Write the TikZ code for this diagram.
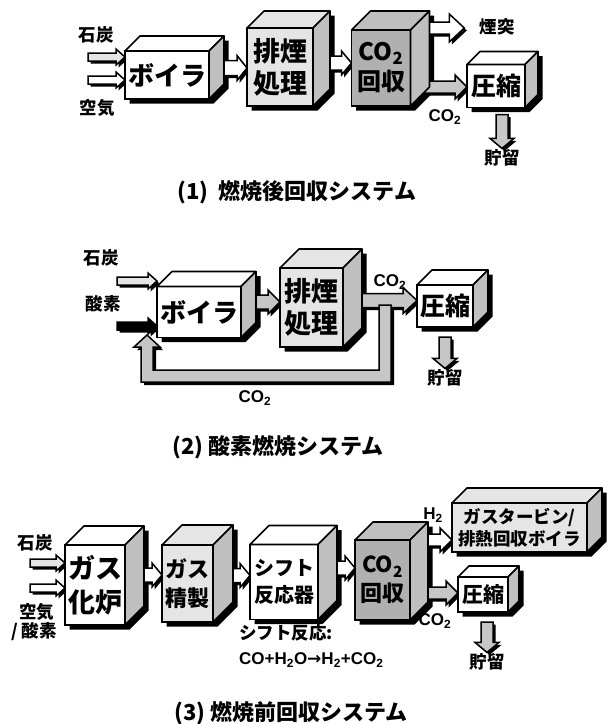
\documentclass[tikz,border=0pt]{standalone}
\usepackage{fontspec}
\setmainfont{Liberation Sans}
\newfontfamily\jp{Noto Sans CJK JP}
\newfontfamily\djv{DejaVu Sans}
\usetikzlibrary{calc}
\pgfdeclarelayer{shad}\pgfdeclarelayer{arr}
\pgfsetlayers{shad,arr,main}
\colorlet{lightf}{gray!20}
\colorlet{darkf}{gray!62}
\colorlet{darktop}{gray!50}
\colorlet{sidef}{gray!50}
\colorlet{arrg}{gray!45}
\newcommand\fs[2]{\fontsize{#1}{#2}\selectfont}
\tikzset{
  cubefront/.style={draw, line width=1.6pt, outer sep=0pt, inner sep=0pt, align=center, text=black},
  face/.style={draw, line width=1.6pt, line join=round},
  arrline/.style={draw, line width=1.5pt, line join=miter},
  lbl/.style={font=\jp\bfseries\fs{17.5}{20}, inner sep=1pt},
  chem/.style={font=\bfseries\fs{17}{19}, inner sep=1pt},
  capt/.style={font=\jp\bfseries\fs{22}{24}},
}
% #1 name, #2 center, #3 w, #4 h, #5 depth, #6 front fill, #7 top fill, #8 font, #9 text
\newcommand\cube[9]{%
  \node[cubefront, minimum width=#3, minimum height=#4, fill=#6, font=\jp\bfseries#8] (#1) at #2 {#9};
  \draw[face, fill=#7] (#1.north west) -- ++(#5,-#5) -- ($(#1.north east)+(#5,-#5)$) -- (#1.north east) -- cycle;
  \draw[face, fill=sidef] (#1.north east) -- ++(#5,-#5) -- ($(#1.south east)+(#5,-#5)$) -- (#1.south east) -- cycle;
  \begin{pgfonlayer}{shad}
    \fill[black] ($(#1.south west)+(4.5,4.5)$) -- ($(#1.north west)+(4.5,4.5)$) -- ($(#1.north west)+(4.5+#5,4.5-#5)$)
      -- ($(#1.north east)+(4.5+#5,4.5-#5)$) -- ($(#1.south east)+(4.5+#5,4.5-#5)$) -- ($(#1.south east)+(4.5,4.5)$) -- cycle;
  \end{pgfonlayer}}
% horizontal block arrow: #1 fill, #2 start, #3 end (x only), #4 shaft half, #5 head half, #6 head length
\newcommand\harr[6]{%
  \begin{pgfonlayer}{arr}
  \fill[black] let \p1=#2, \p2=#3 in
    (\x1+2.5pt,\y1+#4-2.5pt) -- (\x2-#6+2.5pt,\y1+#4-2.5pt) -- (\x2-#6+2.5pt,\y1+#5-2.5pt) -- (\x2+2.5pt,\y1-2.5pt)
    -- (\x2-#6+2.5pt,\y1-#5-2.5pt) -- (\x2-#6+2.5pt,\y1-#4-2.5pt) -- (\x1+2.5pt,\y1-#4-2.5pt) -- cycle;
  \filldraw[arrline, fill=#1] let \p1=#2, \p2=#3 in
    (\x1,\y1+#4) -- (\x2-#6,\y1+#4) -- (\x2-#6,\y1+#5) -- (\x2,\y1)
    -- (\x2-#6,\y1-#5) -- (\x2-#6,\y1-#4) -- (\x1,\y1-#4) -- cycle;
  \end{pgfonlayer}}
% vertical (down) block arrow: #1 fill, #2 start, #3 end (y only)
\newcommand\varr[6]{%
  \begin{pgfonlayer}{arr}
  \fill[black] let \p1=#2, \p2=#3 in
    (\x1-#4+2.5pt,\y1-2.5pt) -- (\x1-#4+2.5pt,\y2+#6-2.5pt) -- (\x1-#5+2.5pt,\y2+#6-2.5pt) -- (\x1+2.5pt,\y2-2.5pt)
    -- (\x1+#5+2.5pt,\y2+#6-2.5pt) -- (\x1+#4+2.5pt,\y2+#6-2.5pt) -- (\x1+#4+2.5pt,\y1-2.5pt) -- cycle;
  \filldraw[arrline, fill=#1] let \p1=#2, \p2=#3 in
    (\x1-#4,\y1) -- (\x1-#4,\y2+#6) -- (\x1-#5,\y2+#6) -- (\x1,\y2)
    -- (\x1+#5,\y2+#6) -- (\x1+#4,\y2+#6) -- (\x1+#4,\y1) -- cycle;
  \end{pgfonlayer}}
\begin{document}
\begin{tikzpicture}[x=1pt,y=-1pt]
\useasboundingbox (0,0) rectangle (611,724);

%% ---------------- (1) ----------------
\cube{boil1}{(167,75)}{84}{48}{15}{white}{white}{\fs{26}{28}}{ボイラ}
\cube{exh1}{(280,67)}{66}{78}{17}{lightf}{lightf}{\fs{27}{32}}{排煙\\処理}
\cube{cap1}{(381,68)}{59}{76}{19}{darkf}{darktop}{\fs{24}{30}}{CO\textsubscript{2}\\回収}
\cube{comp1}{(496,86)}{58}{43}{13}{white}{white}{\fs{25}{26}}{圧縮}

\node[lbl] (coal1) at (96,35) {石炭};
\node[lbl] (air1) at (97,108) {空気};
\node[lbl] (stack1) at (497,27) {煙突};
\node[chem] (co2a) at (445,117) {CO\textsubscript{2}};
\node[lbl] (store1) at (502,158) {貯留};
\coordinate (c1s) at (88,57);
\coordinate (a1s) at (88,80);

\harr{lightf}{(c1s)}{(boil1.west)}{4pt}{8pt}{9pt}
\harr{white}{(a1s)}{(boil1.west)}{4pt}{8pt}{9pt}
\harr{white}{($(boil1.east)+(0,-7)$)}{(exh1.west)}{7.5pt}{12.5pt}{10pt}
\harr{white}{($(exh1.east)+(0,-4)$)}{(cap1.west)}{7pt}{12pt}{10pt}
\harr{white}{($(cap1.north east)+(14,-2)$)}{($(stack1.west)+(-14,0)$)}{6pt}{14pt}{15pt}
\harr{arrg}{($(cap1.east)+(0,19)$)}{(comp1.west)}{6pt}{12pt}{12pt}
\varr{arrg}{($(comp1.south)+(6,7)$)}{(store1.north)}{6pt}{12pt}{10pt}

\node[capt] (cap1t) at (297,192) {(1)\ \ 燃焼後回収システム};

%% ---------------- (2) ----------------
\cube{boil2}{(199,312)}{84}{51}{15}{white}{white}{\fs{26}{28}}{ボイラ}
\cube{exh2}{(311.5,307.5)}{63}{79}{19}{lightf}{lightf}{\fs{27}{32}}{排煙\\処理}
\cube{comp2}{(445,306)}{56}{42}{15}{white}{white}{\fs{25}{26}}{圧縮}

\node[lbl] (coal2) at (101,258) {石炭};
\node[lbl] (oxy2) at (103,304) {酸素};
\node[chem] (co2b) at (390,282) {CO\textsubscript{2}};
\node[chem] (co2c) at (255,398) {CO\textsubscript{2}};
\node[lbl] (store2) at (445,378) {貯留};
\coordinate (c2s) at (117,281);
\coordinate (o2s) at (117,326);

\harr{lightf}{(c2s)}{(boil2.west)}{4pt}{8pt}{9pt}
\harr{black}{(o2s)}{(boil2.west)}{4pt}{8pt}{9pt}
\harr{arrg}{($(boil2.east)+(0,-10)$)}{(exh2.west)}{7pt}{12pt}{12pt}
\harr{arrg}{($(exh2.east)+(0,-7)$)}{(comp2.west)}{7pt}{13pt}{14pt}
\varr{arrg}{($(comp2.south)+(0,10)$)}{(store2.north)}{6pt}{12pt}{10pt}

% recycle loop of CO2
\begin{pgfonlayer}{arr}
\fill[black] (382,308) -- (394,308) -- (394,385) -- (144,385) -- (144,350) -- (137,350) -- (150,338)
  -- (163,350) -- (156,350) -- (156,373) -- (382,373) -- cycle;
\filldraw[arrline, fill=arrg] (379,305) -- (391,305) -- (391,382) -- (141,382) -- (141,347) -- (134,347)
  -- (147,335) -- (160,347) -- (153,347) -- (153,370) -- (379,370) -- cycle;
\end{pgfonlayer}

\node[capt] (cap2t) at (278,447) {(2) 酸素燃焼システム};

%% ---------------- (3) ----------------
\cube{gas3}{(95,585)}{60}{80}{19}{white}{white}{\fs{27}{34}}{ガス\\化炉}
\cube{pur3}{(187.5,583.5)}{51}{77}{20}{lightf}{lightf}{\fs{22}{29}}{ガス\\精製}
\cube{shift3}{(284,582)}{68}{75}{19}{white}{white}{\fs{20}{27}}{シフト\\反応器}
\cube{cap3}{(382.5,580)}{55}{80}{18}{darkf}{darktop}{\fs{22}{29}}{CO\textsubscript{2}\\回収}
\cube{gt3}{(519.5,527.5)}{135}{49}{15}{lightf}{lightf}{\fs{17.5}{22}}{ガスタービン/\\排熱回収ボイラ}
\cube{comp3}{(483,594.5)}{50}{35}{11}{white}{white}{\fs{21}{22}}{圧縮}

\node[lbl] (coal3) at (35,543) {石炭};
\node[lbl] (air3) at (37,612) {空気};
\node[lbl] (oxy3) at (34,632) {/ 酸素};
\node[chem] (h2) at (433,515) {H\textsubscript{2}};
\node[chem] (co2d) at (435,621) {CO\textsubscript{2}};
\node[lbl] (store3) at (487,662) {貯留};
\node[lbl, anchor=west] (shiftt) at (238,633) {シフト反応:};
\node[chem, anchor=west] (eq) at (238,660) {CO+H\textsubscript{2}O{\djv\bfseries →}H\textsubscript{2}+CO\textsubscript{2}};
\coordinate (c3s) at (30,563);
\coordinate (a3s) at (30,588);

\harr{lightf}{(c3s)}{(gas3.west)}{4pt}{8pt}{9pt}
\harr{white}{(a3s)}{(gas3.west)}{4pt}{8pt}{9pt}
\harr{white}{($(gas3.east)+(0,-10)$)}{(pur3.west)}{7pt}{12pt}{10pt}
\harr{white}{($(pur3.east)+(0,-8)$)}{(shift3.west)}{7pt}{12pt}{10pt}
\harr{white}{($(shift3.east)+(0,-14)$)}{(cap3.west)}{7pt}{12pt}{10pt}
\harr{white}{($(cap3.east)+(0,-40)$)}{(gt3.west)}{6pt}{12pt}{12pt}
\harr{arrg}{($(cap3.east)+(0,13)$)}{(comp3.west)}{6pt}{12pt}{12pt}
\varr{arrg}{($(comp3.south)+(4,10)$)}{(store3.north)}{6pt}{12pt}{10pt}

\node[capt] (cap3t) at (291,713) {(3) 燃焼前回収システム};
\end{tikzpicture}
\end{document}
